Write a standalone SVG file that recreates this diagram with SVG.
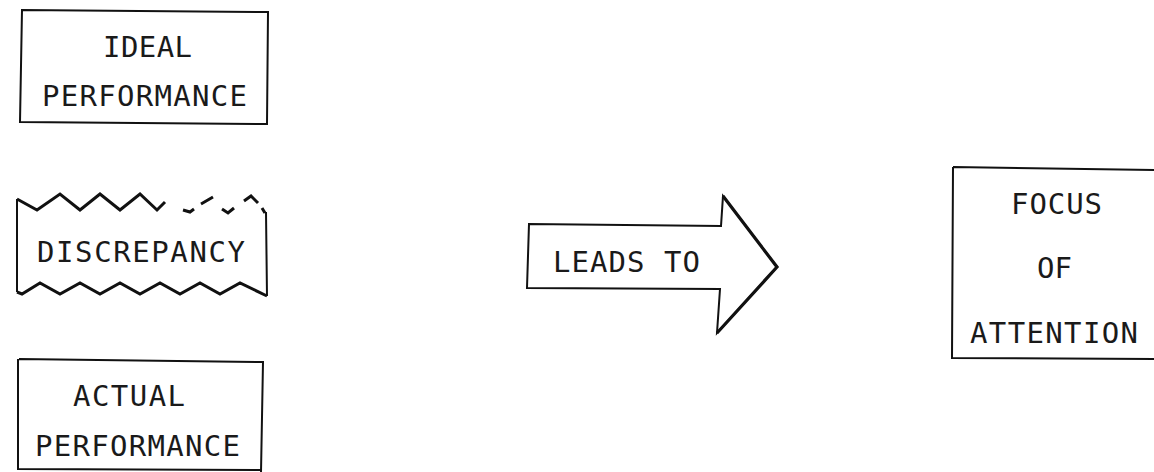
<svg xmlns="http://www.w3.org/2000/svg" width="1154" height="472" viewBox="0 0 1154 472">
<style>
.box{fill:none;stroke:#111;stroke-width:2;stroke-linejoin:miter}
.zig{fill:none;stroke:#111;stroke-width:3;stroke-linejoin:miter}
.t{font-family:"DejaVu Sans Mono","Liberation Mono",monospace;font-size:29px;fill:#1a1a1a}
</style>
<rect width="1154" height="472" fill="#fff"/>
<g id="ideal">
<path class="box" d="M22,10 L268,12 L267,124 L20,122 Z"/>
<text class="t" x="103" y="57" textLength="89" lengthAdjust="spacing">IDEAL</text>
<text class="t" x="42" y="106" textLength="205" lengthAdjust="spacing">PERFORMANCE</text>
</g>
<g id="discrepancy">
<path class="zig" d="M17,199 L37,210 L60,194 L80,210 L100,194 L120,210 L140,194 L157,210 L165,202"/>
<path class="zig" d="M183,210 L190,212 L194,209 M201,204 L213,197 M222,209 L228,213 L234,208 M244,201 L251,196 L258,203 M262,208 L265,213"/>
<path class="box" d="M17,199 L17,292 M266,212 L267,296"/>
<path class="zig" d="M17,292 L22,294 L40,283 L60,294 L80,283 L100,294 L120,283 L140,294 L160,283 L180,294 L200,283 L220,294 L240,283 L267,296"/>
<text class="t" x="37" y="262" textLength="208" lengthAdjust="spacing">DISCREPANCY</text>
</g>
<g id="actual">
<path class="box" d="M19,359 L263,362 L261,472 M18,359 L18,469 L261,470"/>
<text class="t" x="73" y="406" textLength="112" lengthAdjust="spacing">ACTUAL</text>
<text class="t" x="35" y="456" textLength="205" lengthAdjust="spacing">PERFORMANCE</text>
</g>
<g id="leads-to">
<path class="box" d="M529,224 L721,226 L723,196 L777,267 L717,333 L720,289 L527,288 Z" stroke-width="2.4"/>
<path d="M723,196 L777,267 L717,333" fill="none" stroke="#111" stroke-width="3.2" stroke-linejoin="miter"/>
<text class="t" x="553" y="272" textLength="147" lengthAdjust="spacing">LEADS TO</text>
</g>
<g id="focus">
<path class="box" d="M953,167 L1154,170 M953,167 L952,358 L1154,359"/>
<text class="t" x="1011" y="214" textLength="91" lengthAdjust="spacing">FOCUS</text>
<text class="t" x="1037" y="278" textLength="35" lengthAdjust="spacing">OF</text>
<text class="t" x="970" y="343" textLength="168" lengthAdjust="spacing">ATTENTION</text>
</g>
<g id="connectors"></g>
</svg>
